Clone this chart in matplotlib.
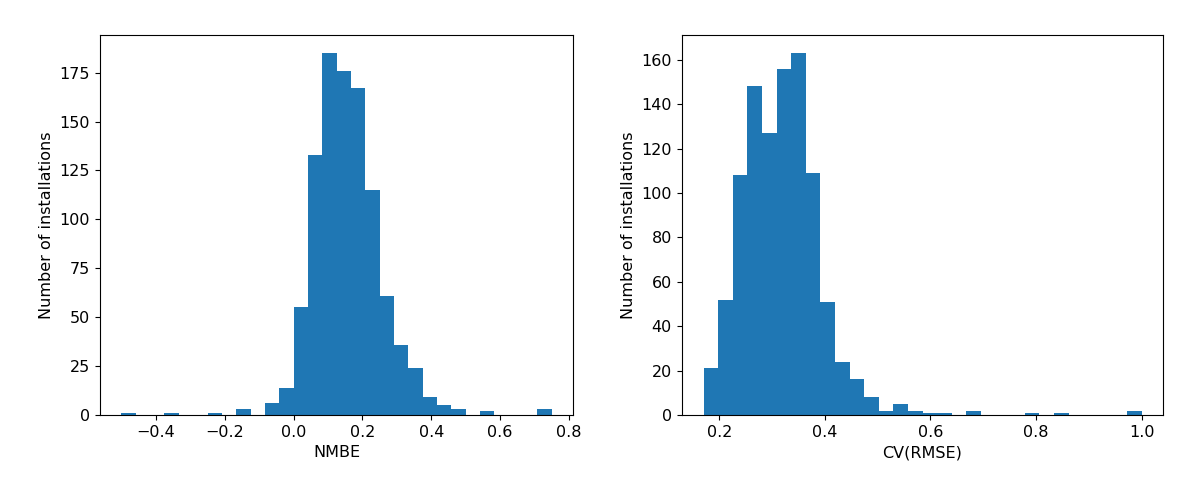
import numpy as np
import matplotlib
matplotlib.use("Agg")
import matplotlib.pyplot as plt

# NMBE histogram: 30 bins from -0.5 to 0.75
nmbe_range = (-0.5, 0.75)
nmbe_counts = [1, 0, 0, 1, 0, 0, 1, 0, 3, 0,
               6, 14, 55, 133, 185, 176, 167, 115, 61, 36,
               24, 9, 5, 3, 0, 2, 0, 0, 0, 3]

# CV(RMSE) histogram: 30 bins from 0.17 to 1.0
cv_range = (0.17, 1.0)
cv_counts = [21, 52, 108, 148, 127, 156, 163, 109, 51, 24,
             16, 8, 2, 5, 2, 1, 1, 0, 2, 0,
             0, 0, 1, 0, 1, 0, 0, 0, 0, 2]

plt.rcParams["font.size"] = 11.5

fig = plt.figure(figsize=(12, 4.99), dpi=100)
ax1 = fig.add_axes([0.0833, 0.1683, 0.3944, 0.7615])
ax2 = fig.add_axes([0.568, 0.1683, 0.4015, 0.7615])


def draw_hist(ax, rng, counts, xlabel):
    edges = np.linspace(rng[0], rng[1], len(counts) + 1)
    centers = (edges[:-1] + edges[1:]) / 2
    ax.hist(centers, bins=edges, weights=counts, color="#1f77b4")
    ax.set_xlabel(xlabel)
    ax.set_ylabel("Number of installations")


draw_hist(ax1, nmbe_range, nmbe_counts, "NMBE")
draw_hist(ax2, cv_range, cv_counts, "CV(RMSE)")

fig.savefig("out.png", dpi=100)
